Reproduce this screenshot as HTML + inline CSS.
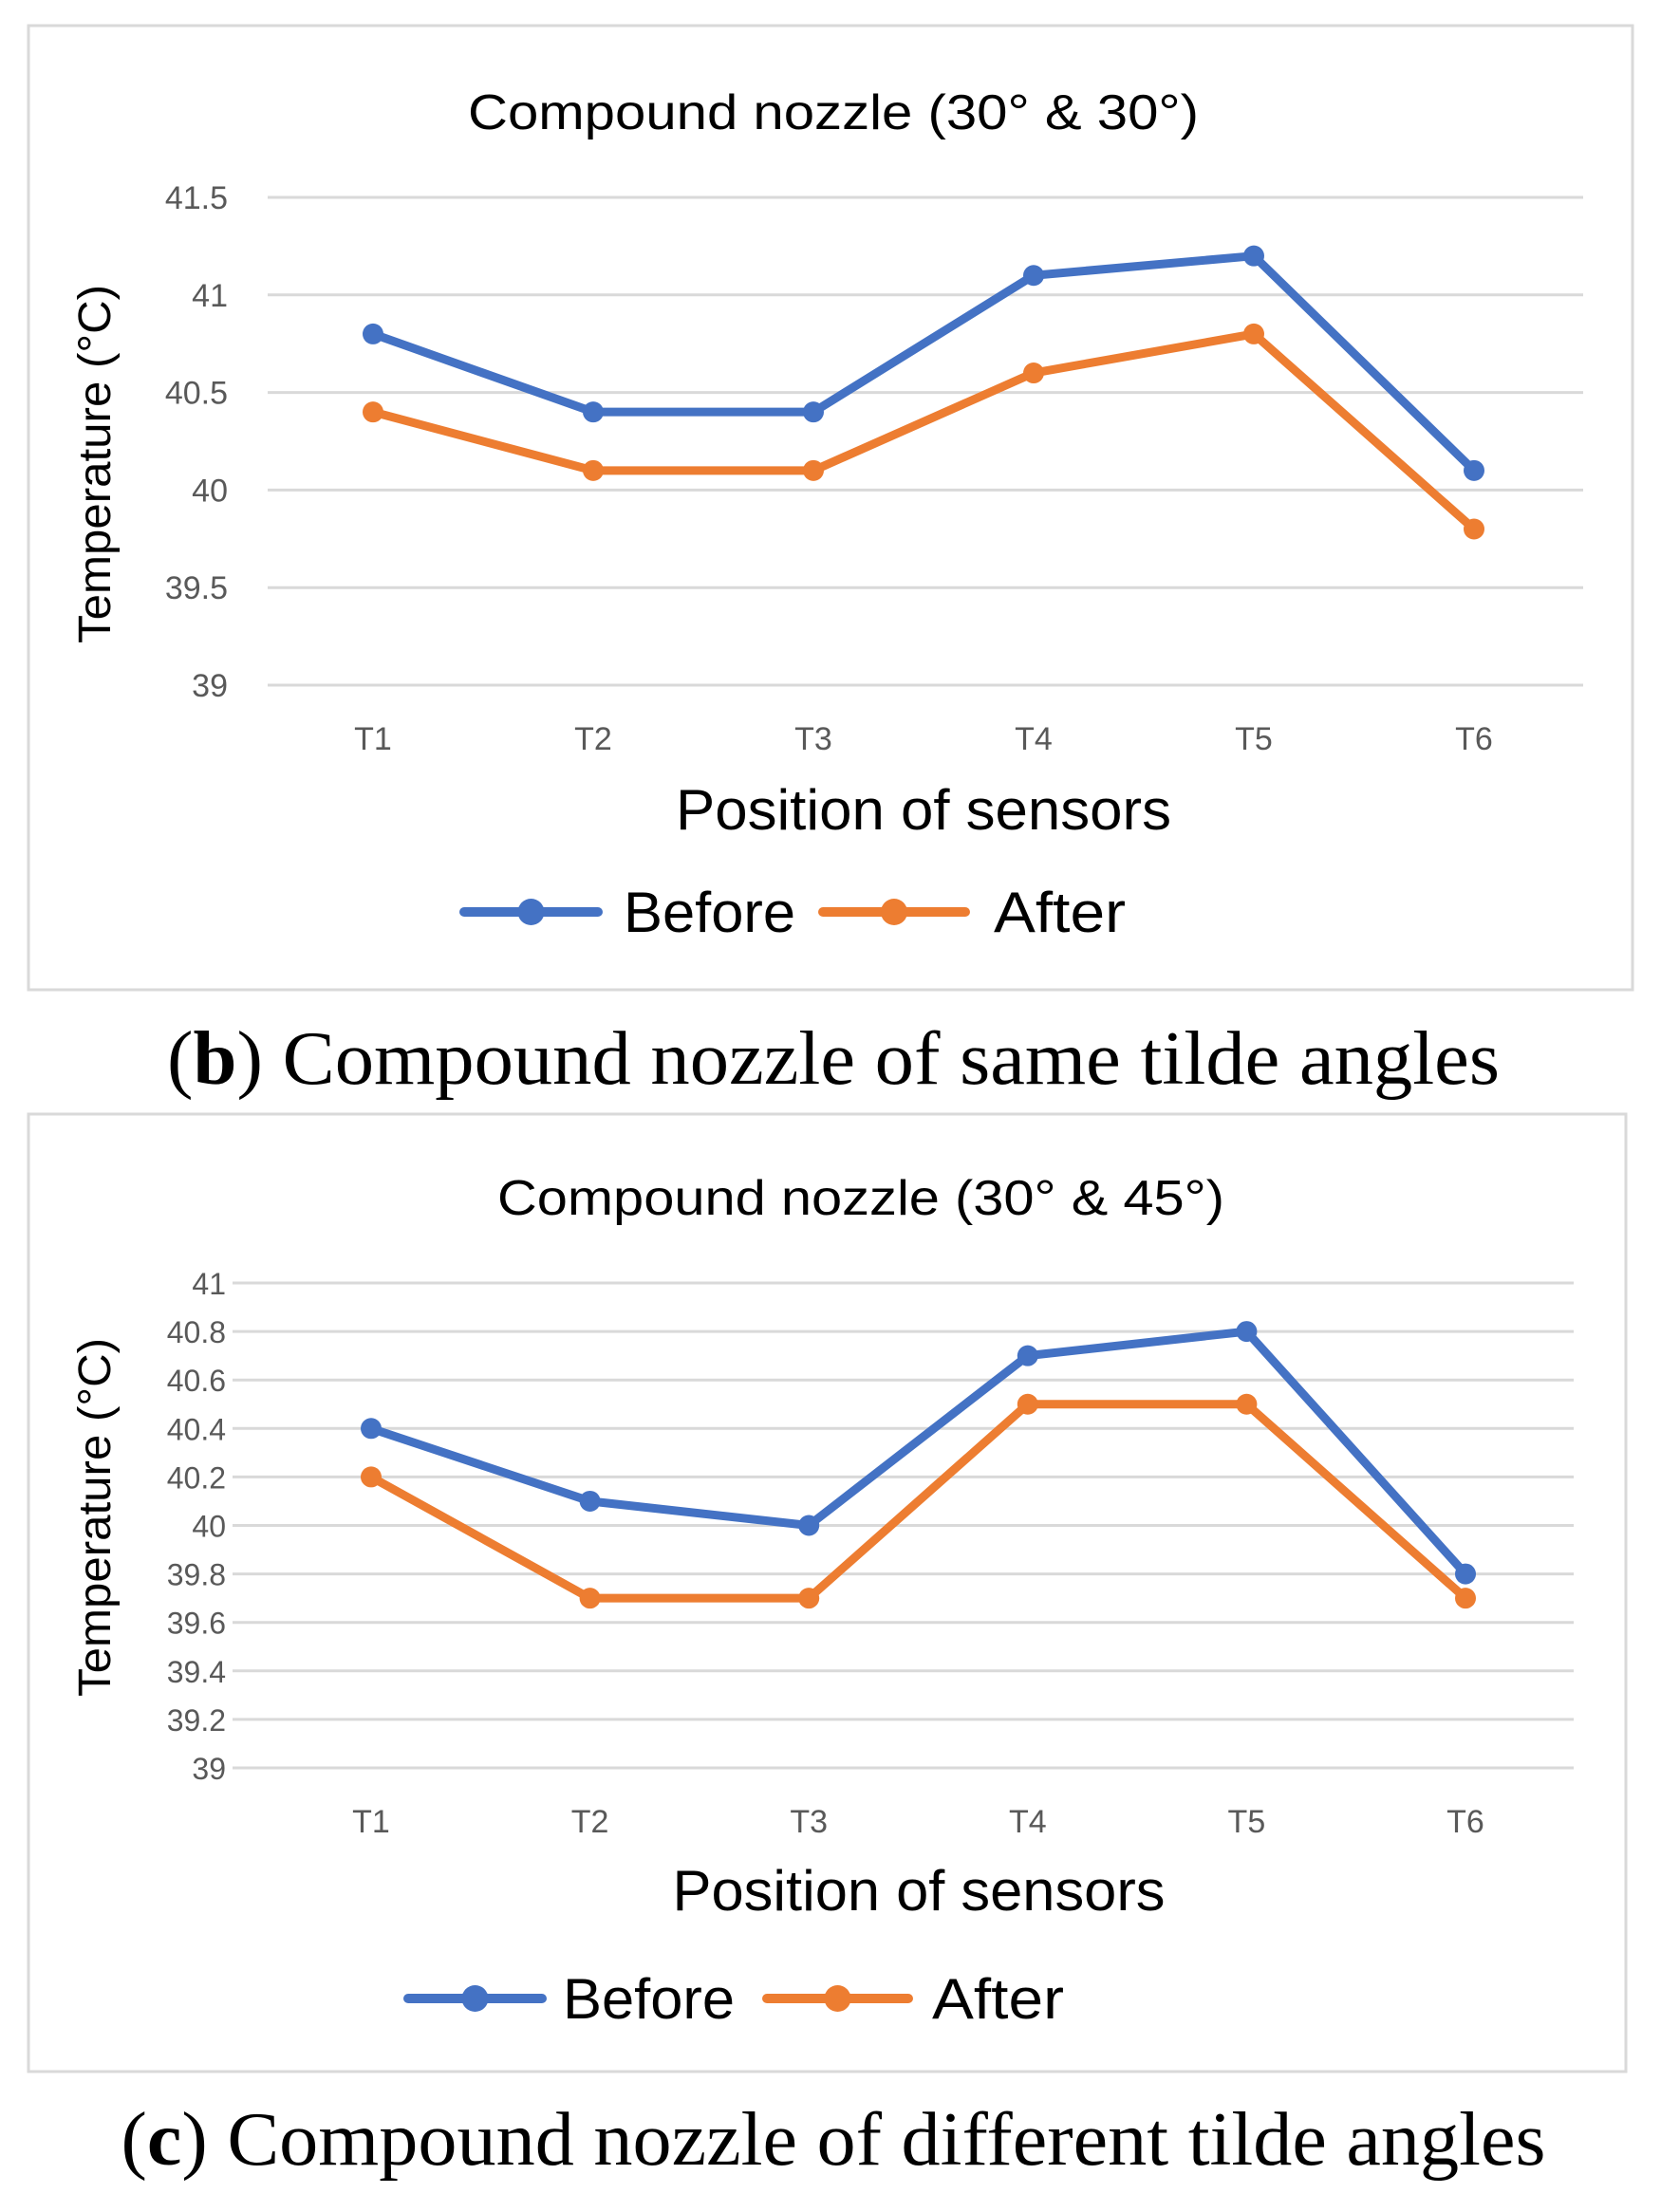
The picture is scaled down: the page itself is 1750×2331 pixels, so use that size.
<!DOCTYPE html>
<html><head><meta charset="utf-8"><style>
body{margin:0;background:#fff;}
svg{display:block;}
</style></head><body>
<svg id="svg" width="1750" height="2331" xmlns="http://www.w3.org/2000/svg">
<rect x="30" y="27" width="1690" height="1016" fill="#fff" stroke="#d9d9d9" stroke-width="3"/>
<rect x="30" y="1174" width="1683" height="1009" fill="#fff" stroke="#d9d9d9" stroke-width="3"/>
<text x="878" y="1142" text-anchor="middle" font-family="Liberation Serif, serif" font-size="80" textLength="1404" lengthAdjust="spacingAndGlyphs" fill="#000">(<tspan font-weight="bold">b</tspan>) Compound nozzle of same tilde angles</text>
<text x="878" y="2281" text-anchor="middle" font-family="Liberation Serif, serif" font-size="80" textLength="1501" lengthAdjust="spacingAndGlyphs" fill="#000">(<tspan font-weight="bold">c</tspan>) Compound nozzle of different tilde angles</text>
</svg>
<script>
const categories = ["T1","T2","T3","T4","T5","T6"];
const beforeB = [40.8,40.4,40.4,41.1,41.2,40.1];
const afterB = [40.4,40.1,40.1,40.6,40.8,39.8];
const ticksB = [39,39.5,40,40.5,41,41.5];
const tickLabelsB = ["39","39.5","40","40.5","41","41.5"];
const beforeC = [40.4,40.1,40.0,40.7,40.8,39.8];
const afterC = [40.2,39.7,39.7,40.5,40.5,39.7];
const ticksC = [39,39.2,39.4,39.6,39.8,40,40.2,40.4,40.6,40.8,41];
const tickLabelsC = ["39","39.2","39.4","39.6","39.8","40","40.2","40.4","40.6","40.8","41"];

const NS="http://www.w3.org/2000/svg";
const svg=document.getElementById('svg');
function mk(tag,attrs,parent){const e=document.createElementNS(NS,tag);for(const k in attrs)e.setAttribute(k,attrs[k]);(parent||svg).appendChild(e);return e;}

function chart(cfg){
  const g=mk('g',{});
  
  
  const ymin=cfg.ticks[0], ymax=cfg.ticks[cfg.ticks.length-1];
  const y=v=>cfg.y0+(cfg.y1-cfg.y0)*(v-ymin)/(ymax-ymin);
  const x=i=>cfg.cx0+i*cfg.step;
  cfg.ticks.forEach((t,i)=>{
    const l=mk('line',{x1:cfg.gx0,x2:cfg.gx1,y1:y(t),y2:y(t),stroke:'#d9d9d9','stroke-width':3},g);
    
    
    const tx=mk('text',{x:cfg.lx,y:y(t)+12,'text-anchor':'end','font-family':'Liberation Sans, sans-serif','font-size':cfg.tfs,fill:'#595959'},g);
    tx.textContent=cfg.labels[i];
    
    
  });
  categories.forEach((c,i)=>{
    const tx=mk('text',{x:x(i),y:cfg.catY,'text-anchor':'middle','font-family':'Liberation Sans, sans-serif','font-size':34,fill:'#595959'},g);
    tx.textContent=c;
    
    
  });
  [[cfg.before,'#4472c4','series-before'],[cfg.after,'#ed7d31','series-after']].forEach(([d,col,nm])=>{
    const p=mk('polyline',{points:d.map((v,i)=>x(i)+','+y(v)).join(' '),fill:'none',stroke:col,'stroke-width':9,'stroke-linejoin':'round'},g);
    
    
    d.forEach((v,i)=>{
      const c=mk('circle',{cx:x(i),cy:y(v),r:11,fill:col},g);
      
      
    });
  });
  const t=mk('text',{x:cfg.titleX,y:cfg.titleY,'text-anchor':'middle','font-family':'Liberation Sans, sans-serif','font-size':52,textLength:cfg.titleW,lengthAdjust:'spacingAndGlyphs',fill:'#000'},g);
  t.textContent=cfg.title;
  
  
  const xt=mk('text',{x:cfg.xtX,y:cfg.xtY,'text-anchor':'middle','font-family':'Liberation Sans, sans-serif','font-size':60,textLength:cfg.xtW,lengthAdjust:'spacingAndGlyphs',fill:'#000'},g);
  xt.textContent='Position of sensors';
  
  
  const yt=mk('text',{x:0,y:0,transform:`translate(116,${cfg.ytY}) rotate(-90)`,'text-anchor':'middle','font-family':'Liberation Sans, sans-serif','font-size':48,textLength:378,lengthAdjust:'spacingAndGlyphs',fill:'#000'},g);
  yt.textContent='Temperature (°C)';
  
  
  const L=cfg.leg;
  [[L.b0,L.b1,L.bt,'#4472c4','Before',181,'legend-before'],[L.a0,L.a1,L.at,'#ed7d31','After',139,'legend-after']].forEach(([a,b,tx0,col,lab,w,nm])=>{
    const lg=mk('g',{},g);
    
    
    mk('line',{x1:a,x2:b,y1:L.y,y2:L.y,stroke:col,'stroke-width':10,'stroke-linecap':'round'},lg);
    mk('circle',{cx:(a+b)/2,cy:L.y,r:14,fill:col},lg);
    const tt=mk('text',{x:tx0,y:L.y+21,'font-family':'Liberation Sans, sans-serif','font-size':60,textLength:w,lengthAdjust:'spacingAndGlyphs',fill:'#000'},lg);
    tt.textContent=lab;
  });
}
chart({id:'chart-b',title:'Compound nozzle (30° & 30°)',titleX:878,titleY:136,titleW:770,ticks:ticksB,labels:tickLabelsB,before:beforeB,after:afterB,
  y0:722,y1:208,gx0:282,gx1:1668,lx:240,tfs:34,cx0:393,step:232,catY:790,xtX:973,xtY:874,xtW:522,ytY:489,
  leg:{y:961,b0:489,b1:630,bt:657,a0:867,a1:1017,at:1047}});
chart({id:'chart-c',title:'Compound nozzle (30° & 45°)',titleX:907,titleY:1280,titleW:766,ticks:ticksC,labels:tickLabelsC,before:beforeC,after:afterC,
  y0:1863,y1:1352,gx0:245,gx1:1658,lx:238,tfs:32,cx0:391,step:230.6,catY:1931,xtX:968,xtY:2013,xtW:519,ytY:1599,
  leg:{y:2106,b0:430,b1:571,bt:593,a0:808,a1:957,at:982}});
</script>
</body></html>
